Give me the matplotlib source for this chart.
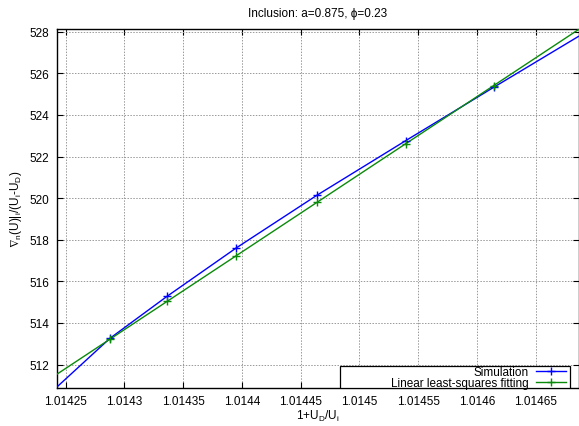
import matplotlib
matplotlib.use("Agg")
import matplotlib.pyplot as plt
from matplotlib.patches import Rectangle

plt.rcParams['font.family'] = ['Liberation Sans', 'DejaVu Sans']
plt.rcParams['mathtext.default'] = 'regular'

# data
x_pts = [1.0142877, 1.0143363, 1.0143950, 1.0144641, 1.0145395, 1.0146142]
sim_y = [513.26, 515.28, 517.60, 520.15, 522.77, 525.33]
fit_y = [513.22, 515.04, 517.22, 519.82, 522.61, 525.41]

# curve ends at the plot borders
x_min, x_max = 1.0142422, 1.0146864
y_min, y_max = 510.87, 528.16
sim_curve_x = [x_min] + x_pts + [x_max]
sim_curve_y = [510.90] + sim_y + [527.78]
fit_line_x = [x_min, x_max]
fit_line_y = [511.52, 528.11]

x_ticks = [1.01425, 1.0143, 1.01435, 1.0144, 1.01445, 1.0145, 1.01455, 1.0146, 1.01465]
x_tick_labels = ['1.01425', '1.0143', '1.01435', '1.0144', '1.01445', '1.0145', '1.01455', '1.0146', '1.01465']
y_ticks = [512, 514, 516, 518, 520, 522, 524, 526, 528]

blue = '#0000ff'
green = '#0a8a0a'

fig = plt.figure(figsize=(5.79, 4.27), dpi=100)
ax = fig.add_axes([56.5 / 579, 1 - 389 / 427, 1 - 56.5 / 579 - 0.5 / 579, (389 - 29.5) / 427])

ax.plot(sim_curve_x, sim_curve_y, color=blue, lw=1.0, zorder=3)
ax.plot(x_pts, sim_y, ls='none', marker='+', ms=6, mew=1.0, color=blue, zorder=4)
ax.plot(fit_line_x, fit_line_y, color=green, lw=1.0, zorder=3)
ax.plot(x_pts, fit_y, ls='none', marker='+', ms=6, mew=1.0, color=green, zorder=4)

# gnuplot-like key: box drawn by hand, text right-aligned before the sample
box = Rectangle((0.543, 0.0), 0.44, 0.062, transform=ax.transAxes,
                facecolor='white', edgecolor='black', lw=0.9, zorder=5)
ax.add_patch(box)
h1, = ax.plot([], [], color=blue, lw=1.0, marker='+', ms=6, mew=1.0)
h2, = ax.plot([], [], color=green, lw=1.0, marker='+', ms=6, mew=1.0)
leg = ax.legend([h1, h2], ['Simulation', 'Linear least-squares fitting'],
                loc='center right', bbox_to_anchor=(0.976, 0.029), markerfirst=False,
                fontsize=8.5, frameon=False, borderpad=0, borderaxespad=0,
                handlelength=2.55, handletextpad=0.6, labelspacing=-0.05)
leg.set_zorder(6)

ax.set_xlim(x_min, x_max)
ax.set_ylim(y_min, y_max)
ax.set_xticks(x_ticks)
ax.set_xticklabels(x_tick_labels)
ax.set_yticks(y_ticks)
ax.tick_params(direction='in', top=True, right=True, labelsize=8.5, length=4, width=0.8, pad=5)
ax.grid(True, color='#999999', ls=(0, (1.5, 1.5)), lw=0.7)
for s in ax.spines.values():
    s.set_linewidth(1.0)

ax.set_title('Inclusion: a=0.875, \u03d5=0.23', fontsize=8.5, pad=9)
ax.set_xlabel(r'1+$U_D/U_i$', fontsize=8.5, labelpad=1)
ax.set_ylabel(r'$\nabla_n(U)|_i/(U_i$-$U_D)$', fontsize=8.5, labelpad=4)

fig.savefig('out.png', dpi=100)
